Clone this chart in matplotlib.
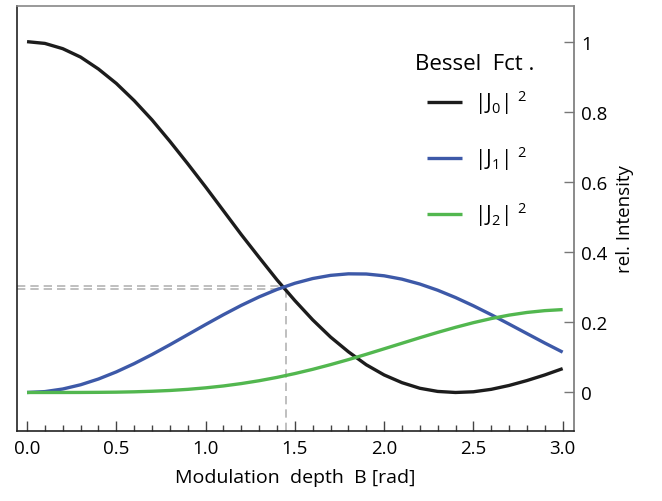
import matplotlib.pyplot as plt

plt.rcParams['font.family'] = ['Open Sans', 'DejaVu Sans']
plt.rcParams['mathtext.fontset'] = 'custom'
plt.rcParams['mathtext.rm'] = 'Open Sans'
plt.rcParams['mathtext.it'] = 'Open Sans'

# modulation depth B [rad]
B = [0.0, 0.1, 0.2, 0.3, 0.4, 0.5, 0.6, 0.7, 0.8, 0.9, 1.0,
     1.1, 1.2, 1.3, 1.4, 1.5, 1.6, 1.7, 1.8, 1.9, 2.0,
     2.1, 2.2, 2.3, 2.4, 2.5, 2.6, 2.7, 2.8, 2.9, 3.0]

# |J0|^2, |J1|^2, |J2|^2
j0_sq = [1.000, 0.995, 0.980, 0.956, 0.922, 0.881, 0.832, 0.777, 0.716, 0.652, 0.586,
         0.518, 0.450, 0.385, 0.321, 0.262, 0.207, 0.158, 0.116, 0.079, 0.050,
         0.028, 0.012, 0.003, 0.000, 0.002, 0.009, 0.020, 0.034, 0.050, 0.068]
j1_sq = [0.000, 0.0025, 0.0099, 0.0220, 0.0384, 0.0587, 0.0822, 0.1082, 0.1360, 0.1648, 0.1936,
         0.2217, 0.2483, 0.2725, 0.2937, 0.3113, 0.3248, 0.3338, 0.3382, 0.3377, 0.3326,
         0.3230, 0.3091, 0.2915, 0.2706, 0.2471, 0.2217, 0.1950, 0.1679, 0.1409, 0.1150]
j2_sq = [0.000, 0.0000, 0.0000, 0.0001, 0.0004, 0.0009, 0.0019, 0.0035, 0.0057, 0.0089, 0.0132,
         0.0186, 0.0254, 0.0335, 0.0430, 0.0539, 0.0660, 0.0794, 0.0937, 0.1088, 0.1245,
         0.1403, 0.1561, 0.1713, 0.1857, 0.1990, 0.2107, 0.2205, 0.2281, 0.2333, 0.2363]

labels = ['|J$_0$| $^2$', '|J$_1$| $^2$', '|J$_2$| $^2$']
colors = ['#1c1c1c', '#3d59a8', '#52b74f']

# crossing point of |J0|^2 and |J1|^2
cross_x = 1.45
cross_y = [0.296, 0.303]

xticks = [0.0, 0.5, 1.0, 1.5, 2.0, 2.5, 3.0]
yticks = [0, 0.2, 0.4, 0.6, 0.8, 1]

fig = plt.figure(figsize=(6.62, 5.02), dpi=100)
ax = fig.add_axes([0.0252, 0.140, 0.842, 0.847])

ax.set_xlim(-0.058, 3.064)
ax.set_ylim(-0.109, 1.103)

# dashed helper lines
for y in cross_y:
    ax.plot([-0.058, cross_x], [y, y], color='#b4b4b4', lw=1.2, ls=(0, (5, 3)), zorder=1)
ax.plot([cross_x, cross_x], [-0.109, 0.30], color='#b4b4b4', lw=1.2, ls=(0, (5, 3)), zorder=1)

for ys, lab, c in zip([j0_sq, j1_sq, j2_sq], labels, colors):
    ax.plot(B, ys, color=c, lw=2.4, label=lab, solid_capstyle='butt',
            solid_joinstyle='round', zorder=3)

ax.set_xticks(xticks)
ax.set_xticklabels([f'{t:.1f}' for t in xticks])
ax.set_xticks([i / 10 for i in range(31)], minor=True)
ax.yaxis.tick_right()
ax.yaxis.set_label_position('right')
ax.set_yticks(yticks)
ax.set_yticklabels([f'{t:g}' for t in yticks])

ax.tick_params(axis='x', which='major', direction='in', length=7, width=1, color='#444444',
               labelsize=13.5, pad=6)
ax.tick_params(axis='x', which='minor', direction='in', length=4, width=1, color='#444444')
ax.tick_params(axis='y', which='major', direction='in', length=7, width=1, color='#777777',
               labelsize=13.5, pad=5)

ax.spines['left'].set_color('#222222')
ax.spines['bottom'].set_color('#222222')
ax.spines['top'].set_color('#888888')
ax.spines['right'].set_color('#777777')
for s in ax.spines.values():
    s.set_linewidth(1.2)

ax.set_xlabel('Modulation  depth  B [rad]', fontsize=14, labelpad=8)
ax.set_ylabel('rel. Intensity', fontsize=13.5, labelpad=6)

# legend title and entries
ax.text(0.715, 0.863, 'Bessel  Fct .', transform=ax.transAxes, fontsize=16,
        ha='left', va='center')
ax.legend(loc='upper left', bbox_to_anchor=(0.721, 0.826), frameon=False, fontsize=15,
          handlelength=1.68, handletextpad=0.58, labelspacing=1.3,
          borderaxespad=0)

fig.savefig('out.png', dpi=100)
